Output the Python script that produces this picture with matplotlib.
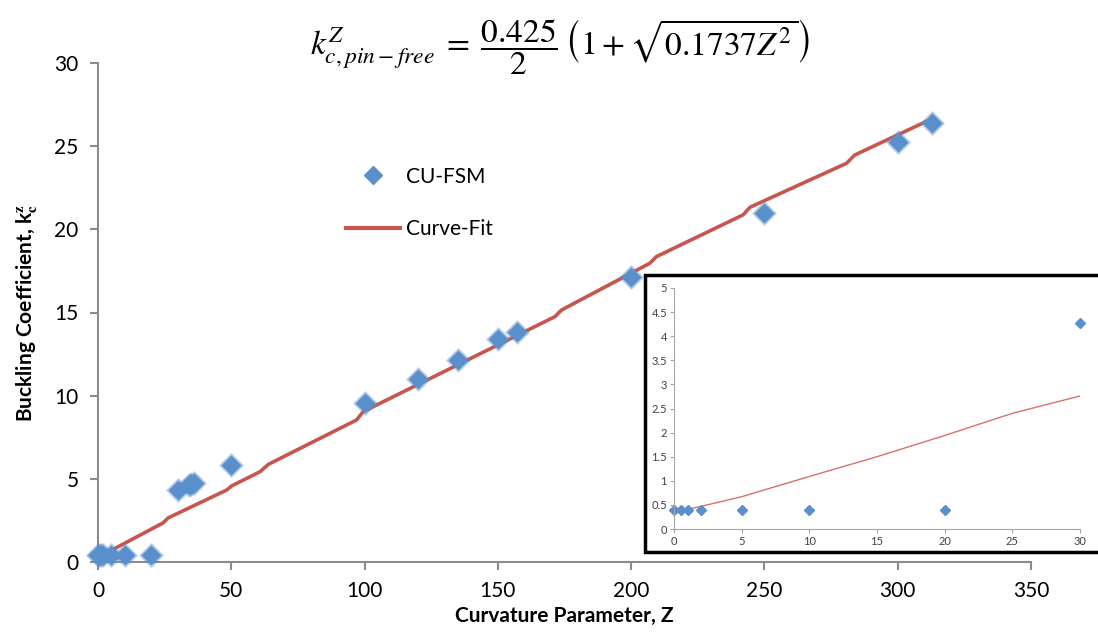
import numpy as np
import matplotlib
matplotlib.use("Agg")
import matplotlib.pyplot as plt
from matplotlib.patches import Rectangle

plt.rcParams['font.family'] = ['Lato', 'DejaVu Sans']
plt.rcParams['mathtext.fontset'] = 'stix'

# CU-FSM results
fsm_z = [0, 0.5, 1, 2, 5, 10, 20, 30, 34, 35, 36, 50, 100, 120, 135, 150, 157, 200, 250, 300, 313]
fsm_k = [0.4, 0.4, 0.4, 0.4, 0.4, 0.4, 0.4, 4.3, 4.6, 4.7, 4.75, 5.83, 9.54, 10.98, 12.15, 13.39, 13.85, 17.12, 21.0, 25.27, 26.38]

# curve fit as drawn (excel line with kinks)
fit_z = [5, 24.4, 26.3, 48.3, 50.1, 60.8, 63.9, 97, 99.5, 171.4, 173.9, 207, 209.5, 242, 244.6, 280.8, 283.9, 313.3]
fit_k = [0.7, 2.35, 2.65, 4.33, 4.57, 5.43, 5.87, 8.54, 9.04, 14.75, 15.15, 17.96, 18.36, 20.87, 21.33, 23.97, 24.47, 26.68]

# zoomed inset
ins_z = [0, 0.5, 1, 2, 5, 10, 20, 30]
ins_k = [0.4, 0.4, 0.4, 0.4, 0.4, 0.4, 0.4, 4.27]
ins_fit_z = [1.2, 2, 5, 10, 15, 20, 25, 30]
ins_fit_k = [0.42, 0.47, 0.67, 1.09, 1.5, 1.94, 2.4, 2.76]

blue = '#5A8FCB'
red = '#C9564E'
grey = '#8C8C8C'

W, H = 1098, 635
fig = plt.figure(figsize=(W / 100, H / 100), dpi=100)
ax = fig.add_axes([98 / W, 1 - 562 / H, 933 / W, 499 / H])

ax.plot(fit_z, fit_k, '-', color=red, lw=2.6, label='Curve-Fit', zorder=2)
ax.plot(fsm_z, fsm_k, 'D', color=blue, ms=10, mec=(0.35, 0.56, 0.8, 0.45), mew=2.5,
        lw=0, clip_on=False, zorder=3)
# legend handles
h1, = ax.plot([], [], 'D', color=blue, ms=9, lw=0, label='CU-FSM')
h2, = ax.plot([], [], '-', color=red, lw=3, label='Curve-Fit')

ax.set_xlim(0, 350)
ax.set_ylim(0, 30)
ax.set_xticks(np.arange(0, 351, 50))
ax.set_yticks(np.arange(0, 31, 5))
for s in ['top', 'right']:
    ax.spines[s].set_visible(False)
for s in ['left', 'bottom']:
    ax.spines[s].set_color(grey)
    ax.spines[s].set_linewidth(1.5)
ax.tick_params(direction='out', length=6, width=1.5, color=grey, labelsize=15, pad=8)

ax.set_xlabel('Curvature Parameter, Z', fontsize=15, fontweight='bold', labelpad=3)
ax.set_ylabel(r'Buckling Coefficient, k$_\mathbf{c}^\mathbf{z}$', fontsize=15,
              fontweight='bold', labelpad=10)

ax.legend(handles=[h1, h2], loc='upper left', bbox_to_anchor=(0.246, 0.83), frameon=False,
          fontsize=15, handlelength=2.6, handletextpad=0.25, labelspacing=1.55)

fig.text(0.51, 0.925,
         r'$k^{Z}_{c,pin-free}\;=\;\dfrac{0.425}{2}\,\left(1+\sqrt{0.1737Z^2}\right)$',
         ha='center', va='center', fontsize=24)

# inset frame and axes
frame = Rectangle((645 / W, 1 - 552 / H), 460 / W, 277 / H, transform=fig.transFigure,
                  facecolor='white', edgecolor='black', lw=2.5, zorder=5)
fig.patches.append(frame)

axi = fig.add_axes([674 / W, 1 - 529 / H, 406 / W, 241 / H])
axi.set_zorder(6)
axi.patch.set_alpha(0)
axi.plot(ins_fit_z, ins_fit_k, '-', color='#D9706A', lw=1)
axi.plot(ins_z, ins_k, 'D', color=blue, ms=5, lw=0, clip_on=False)
axi.set_xlim(0, 30)
axi.set_ylim(0, 5)
axi.set_xticks(np.arange(0, 31, 5))
axi.set_yticks(np.arange(0, 5.01, 0.5))
axi.set_yticklabels(['0', '0.5', '1', '1.5', '2', '2.5', '3', '3.5', '4', '4.5', '5'])
for s in ['top', 'right']:
    axi.spines[s].set_visible(False)
for s in ['left', 'bottom']:
    axi.spines[s].set_color('#A6A6A6')
axi.tick_params(direction='out', length=3, color='#A6A6A6', labelsize=8, labelcolor='#404040', pad=2)

fig.savefig('out.png', dpi=100)
